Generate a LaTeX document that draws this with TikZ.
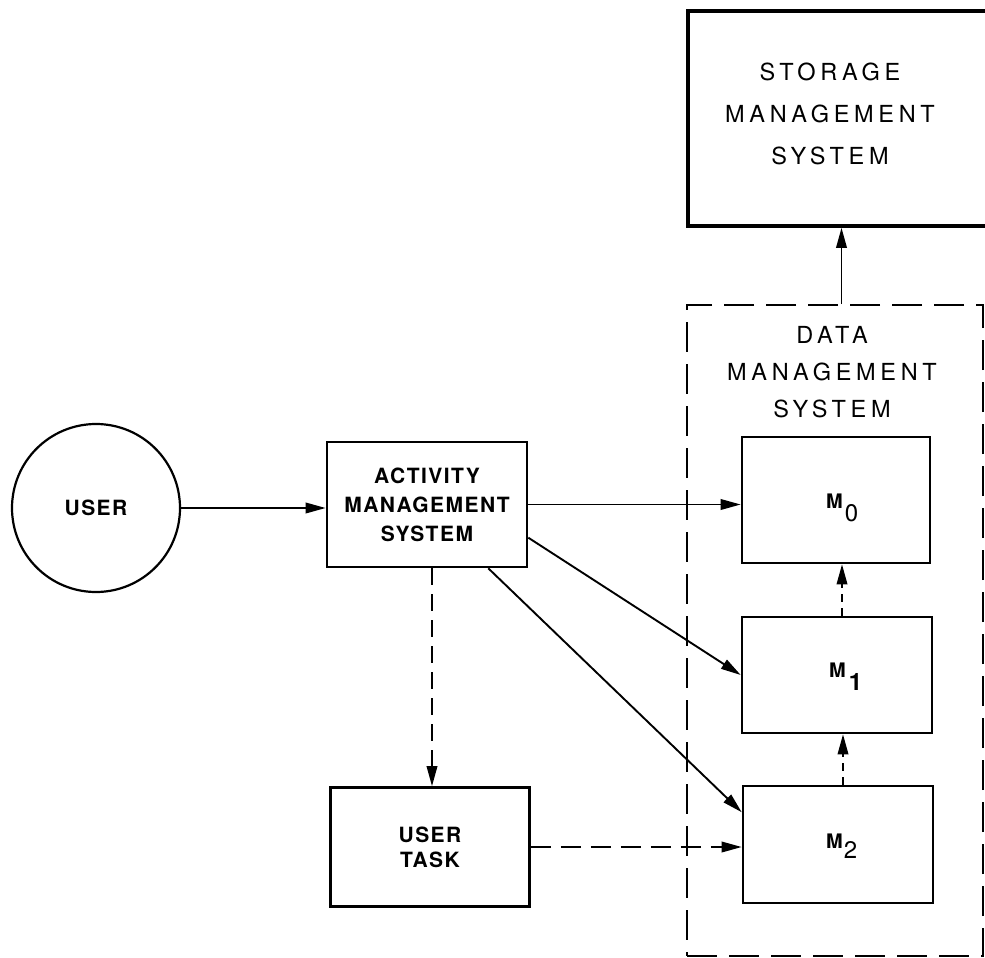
\documentclass[tikz,border=0pt]{standalone}
\usepackage{fontspec}
\setmainfont{TeX Gyre Heros}
\newfontfamily\widefont[LetterSpace=20]{TeX Gyre Heros}
\newfontfamily\midfont[LetterSpace=7]{TeX Gyre Heros}
\usetikzlibrary{arrows.meta,calc}

\begin{document}
\begin{tikzpicture}[x=1pt,y=-1pt,
  box/.style={draw, line width=2.6pt, inner sep=0pt, align=center},
  plate/.style={box, font=\midfont\bfseries\fontsize{21}{29}\selectfont},
  heading/.style={inner sep=0pt, align=center},
  mlabel/.style={inner sep=0pt, anchor=base west, font=\bfseries\fontsize{20}{20}\selectfont},
  conn/.style={line width=1.9pt, -{Triangle[length=20pt,width=10.5pt]}},
  dconn/.style={conn, dash pattern=on 17pt off 9pt},
  sconn/.style={conn, dash pattern=on 8pt off 6pt},
  frame/.style={line width=2pt, dash pattern=on 30pt off 12pt}
]
\useasboundingbox (0,0) rectangle (985,958);
\clip (0,0) rectangle (985,958);

% data management system frame
\node[frame, draw, minimum width=296pt, minimum height=651pt, inner sep=0pt] (dms) at (835,630.5) {};
\node[heading, font=\widefont\fontsize{23.5}{37}\selectfont] (dmstext) at (832,372) {DATA\\MANAGEMENT\\SYSTEM};

% storage management system (runs off the right edge)
\node[box, line width=3.6pt, minimum width=307pt, minimum height=215pt] (storage) at (841.5,118.5) {};
\node[heading, font=\widefont\fontsize{23.5}{42}\selectfont] (stotext) at (830,114) {STORAGE\\MANAGEMENT\\SYSTEM};

% user
\node[draw, circle, line width=2.2pt, minimum size=168pt, inner sep=0pt,
      font=\midfont\bfseries\fontsize{21}{21}\selectfont] (user) at (96,508) {USER};

% activity management and user task
\node[plate, minimum width=200pt, minimum height=125pt] (ams) at (427,504.5) {ACTIVITY\\MANAGEMENT\\SYSTEM};
\node[plate, minimum width=199pt, minimum height=119pt, font=\midfont\bfseries\fontsize{21}{25}\selectfont] (task) at (430,847) {USER\\TASK};

% modules
\node[box, minimum width=188pt, minimum height=126pt] (m0) at (836,500) {};
\node[box, minimum width=190pt, minimum height=116pt] (m1) at (837,675) {};
\node[box, minimum width=190pt, minimum height=117pt] (m2) at (838,844.5) {};
\node[mlabel] (m0text) at (826,508) {M\kern2pt{\mdseries\fontsize{24}{24}\selectfont\raisebox{-13pt}{0}}};
\node[mlabel] (m1text) at (829,677) {M\kern3pt{\fontsize{24}{24}\selectfont\raisebox{-13pt}{1}}};
\node[mlabel] (m2text) at (826,848) {M\kern1pt{\mdseries\fontsize{24}{24}\selectfont\raisebox{-10pt}{2}}};

% connectors
\draw[conn] (user.east) -- (user.east -| ams.west);
\draw[conn] (ams.east) -- (ams.east -| m0.west);
\draw[conn] ($(ams.east)!0.52!(ams.south east)$) -- (m1.west);
\draw[conn] ($(ams.south east)+(-40,0)$) -- ($(m2.north west)!0.23!(m2.south west)$);

\coordinate (amsdrop) at ($(ams.south)+(5,0)$);
\draw[dconn] (amsdrop) -- (amsdrop |- task.north);
\draw[dconn, dash pattern=on 20pt off 10pt] (task.east) -- (task.east -| m2.west);

\coordinate (m2up) at ($(m2.north)+(5,0)$);
\coordinate (m1up) at ($(m1.north)+(5,0)$);
\draw[sconn] (m2up) -- (m2up |- m1.south);
\draw[sconn] (m1up) -- (m1up |- m0.south);

\draw[conn] (storage.south |- dms.north) -- (storage.south);
\end{tikzpicture}
\end{document}
